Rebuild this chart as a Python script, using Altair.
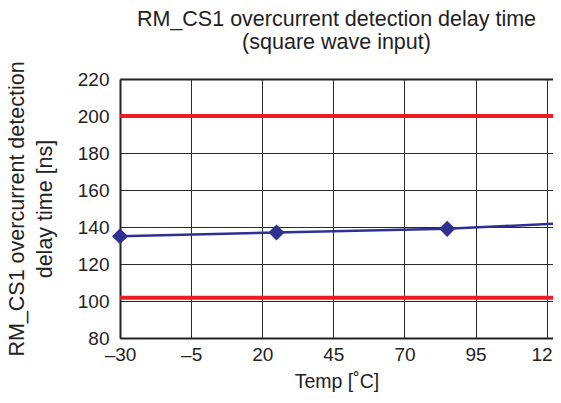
import altair as alt
import pandas as pd

# Data
temps = [-30, 25, 85, 125]
delays = [135, 137, 139, 142]
limit_values = [200, 101.7]
x_ticks = [-30, -5, 20, 45, 70, 95, 120]
y_ticks = [80, 100, 120, 140, 160, 180, 200, 220]
x_range = [-30, 125]

df = pd.DataFrame({"temp": temps, "delay": delays})
limits = pd.DataFrame({"limit": limit_values, "x0": [x_range[0]] * 2, "x1": [x_range[1]] * 2})

FONT = "Liberation Sans"
RED = "#ED1C24"
BLUE = "#2E3192"
INK = "#222222"

# the picture is cut at its right edge: the visible plot ends a little before 125
x_scale = alt.Scale(domain=[-30, 122.2], nice=False, zero=False)
y_scale = alt.Scale(domain=[80, 220], nice=False, zero=False)

x_axis = alt.Axis(
    values=x_ticks,
    title="Temp [˚C]",
    labelExpr="datum.value < 0 ? '–' + abs(datum.value) : datum.label",
    grid=True, gridColor="#2a2a2a", gridWidth=1, gridOpacity=1,
    domain=True, domainColor=INK, domainWidth=2, ticks=False,
    labelFont=FONT, labelFontSize=19, labelColor=INK, labelPadding=7,
    labelFlush=False, labelOverlap=False,
    titleFont=FONT, titleFontSize=19.5, titleFontWeight="normal", titleColor=INK,
    titlePadding=8,
)
y_axis = alt.Axis(
    values=y_ticks,
    title=["RM_CS1 overcurrent detection", "delay time [ns]"],
    grid=True, gridOpacity=1,
    gridColor={"condition": {"test": "datum.value === 220", "value": INK}, "value": "#2a2a2a"},
    gridWidth={"condition": {"test": "datum.value === 220", "value": 2}, "value": 1},
    domain=True, domainColor=INK, domainWidth=2, ticks=False,
    labelFont=FONT, labelFontSize=19, labelColor=INK, labelPadding=11,
    labelFlush=False, labelOverlap=False,
    titleFont=FONT, titleFontSize=21.5, titleFontWeight="normal", titleColor=INK,
    titleLineHeight=28, titlePadding=21,
)

rules = alt.Chart(limits).mark_rule(color=RED, strokeWidth=4, clip=False).encode(
    x=alt.X("x0:Q", scale=x_scale, axis=x_axis),
    x2="x1:Q",
    y=alt.Y("limit:Q", scale=y_scale, axis=y_axis),
)
base_line = alt.Chart(df).mark_line(color=BLUE, strokeWidth=2.5, clip=False).encode(
    x=alt.X("temp:Q", scale=x_scale, axis=x_axis),
    y=alt.Y("delay:Q", scale=y_scale, axis=y_axis),
)
points = alt.Chart(df).mark_point(
    shape="diamond", filled=True, size=260, color=BLUE, opacity=1, clip=False
).encode(
    x=alt.X("temp:Q", scale=x_scale, axis=x_axis),
    y=alt.Y("delay:Q", scale=y_scale, axis=y_axis),
)

chart = alt.layer(rules, base_line, points).properties(
    width=433,
    height=259,
    title=alt.TitleParams(
        text=["RM_CS1 overcurrent detection delay time", "(square wave input)"],
        font=FONT, fontSize=21.5, fontWeight="normal", color=INK,
        lineHeight=23, anchor="middle", offset=7,
    ),
    autosize=alt.AutoSizeParams(type="none"),
    padding={"left": 112, "top": 71, "right": 0, "bottom": 57},
).configure_view(
    stroke=None
).configure(background="white")

chart.save("out.html", embed_options={"renderer": "svg", "actions": False})
